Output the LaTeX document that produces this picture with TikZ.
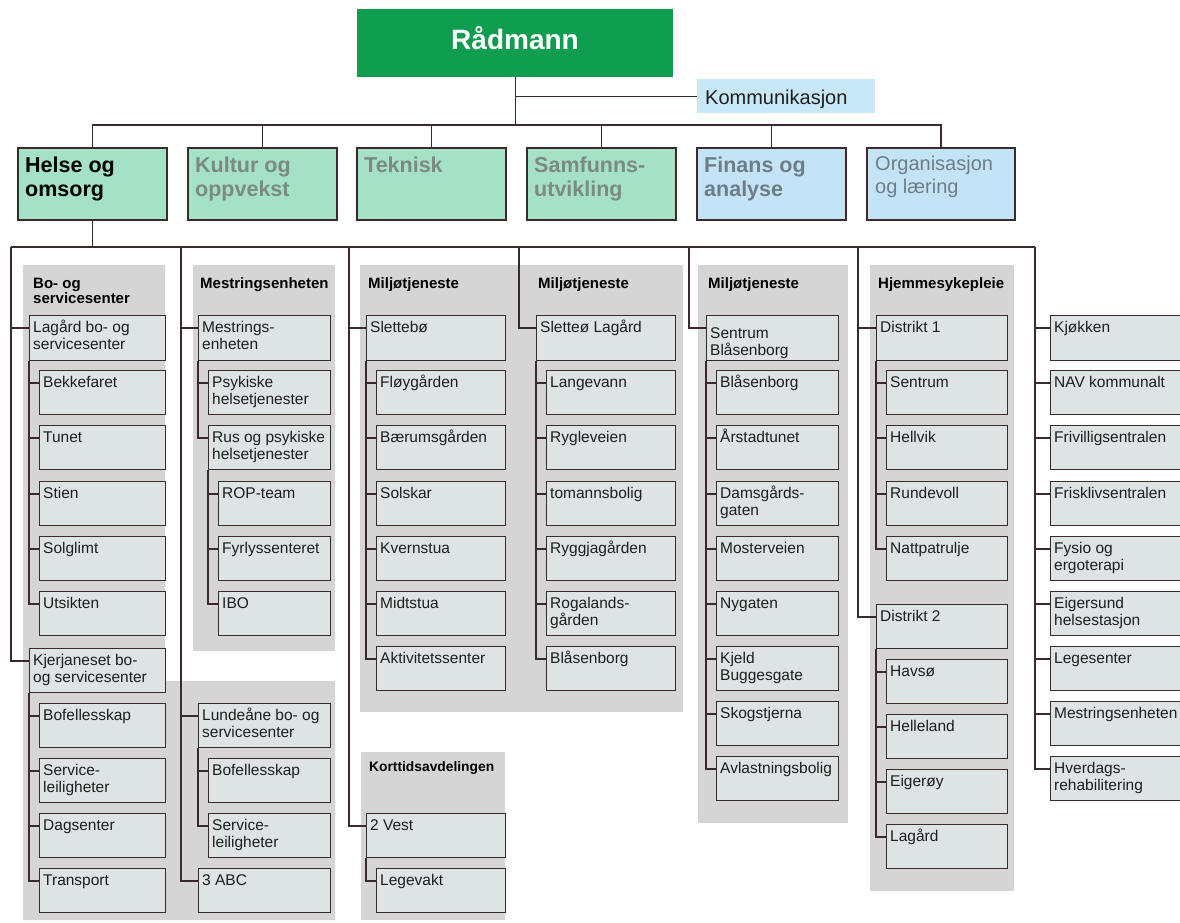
\documentclass[tikz,border=0pt]{standalone}
\usepackage{fontspec}
\setmainfont{Liberation Sans}
\definecolor{lineC}{HTML}{3A2A2A}
\definecolor{boxC}{HTML}{DEE3E3}
\definecolor{panelC}{HTML}{D4D5D4}
\definecolor{radC}{HTML}{0F9D50}
\definecolor{mintC}{HTML}{A5E1C7}
\definecolor{skyC}{HTML}{C3E4F6}
\definecolor{kommC}{HTML}{C8E7F7}
\definecolor{greyTxt}{HTML}{7C8A83}
\definecolor{blueTxt}{HTML}{6F7D87}
\definecolor{inkC}{HTML}{1E1E1E}
\newcommand\olines[1]{\begin{tabular}[t]{@{}l@{}}#1\end{tabular}}
\newcommand\obox[6]{%
  \node[ubox,minimum width=#4pt,minimum height=#5pt] (#1) at (#2,#3) {};
  \node[btxt] (#1-t) at ([xshift=4pt,yshift=-17pt]#1.north west) {\olines{#6}};}
\newcommand\olink[2]{\draw[conn] (#1) |- ([yshift=-13pt]#2.north west);}
\newcommand\lvlbox[5]{%
  \node[lbox,fill=#3,minimum width=149pt,minimum height=72pt] (#1) at (#2,147) {};
  \node[ltxt,text=#4] (#1-t) at ([xshift=8pt,yshift=-25pt]#1.north west) {#5};}
\tikzset{
  ubox/.style={draw=lineC,line width=1.3pt,fill=boxC,anchor=north west,inner sep=0pt},
  btxt/.style={anchor=base west,inner sep=0pt,text=inkC,font=\fontsize{15.5}{17.5}\selectfont},
  conn/.style={draw=lineC,line width=1.3pt},
  ttl/.style={anchor=base west,inner sep=0pt,text=black,font=\bfseries\fontsize{15}{15}\selectfont},
  lbox/.style={draw=lineC,line width=2pt,anchor=north west,inner sep=0pt},
  ltxt/.style={anchor=base west,inner sep=0pt,font=\fontsize{21.5}{24.5}\selectfont},
}
\begin{document}
\begin{tikzpicture}[x=1pt,y=-1pt]
\useasboundingbox (0,0) rectangle (1180,922);
\fill[white] (0,0) rectangle (1180,922);
% panels
\fill[panelC] (23,265) -- (165,265) -- (165,681) -- (335,681) -- (335,920) -- (23,920) -- cycle;
\fill[panelC] (193,265) rectangle (335,651);
\fill[panelC] (360,265) rectangle (683,712);
\fill[panelC] (698,265) rectangle (848,823);
\fill[panelC] (870,265) rectangle (1014,891);
\fill[panelC] (361,752) rectangle (505,920);
% panel titles
\node[ttl] (t1) at (33,288) {\olines{Bo- og\\servicesenter}};
\node[ttl] (t2) at (200,288) {Mestringsenheten};
\node[ttl] (t3) at (368,288) {Miljøtjeneste};
\node[ttl] (t4) at (538,288) {Miljøtjeneste};
\node[ttl] (t5) at (708,288) {Miljøtjeneste};
\node[ttl] (t6) at (878,288) {Hjemmesykepleie};
\node[ttl,font=\bfseries\fontsize{13.8}{14}\selectfont] (t7) at (369,771) {Korttidsavdelingen};
% top
\node[fill=radC,minimum width=316pt,minimum height=68pt,anchor=north west,inner sep=0pt] (rad) at (357,9) {};
\node[anchor=base,inner sep=0pt,text=white,font=\bfseries\fontsize{28}{30}\selectfont] (rad-t) at (515,49) {Rådmann};
\node[fill=kommC,minimum width=178pt,minimum height=34pt,anchor=north west,inner sep=0pt] (komm) at (697,79) {};
\node[anchor=base west,inner sep=0pt,text=inkC,font=\fontsize{20}{22}\selectfont] (komm-t) at (705,104) {Kommunikasjon};
% level 1
\lvlbox{helse}{17}{mintC}{black}{\bfseries\olines{Helse og\\omsorg}}
\lvlbox{kultur}{187}{mintC}{greyTxt}{\bfseries\olines{Kultur og\\oppvekst}}
\lvlbox{tek}{356}{mintC}{greyTxt}{\bfseries\olines{Teknisk}}
\lvlbox{samf}{526}{mintC}{greyTxt}{\bfseries\olines{Samfunns-\\utvikling}}
\lvlbox{fin}{696}{skyC}{blueTxt}{\bfseries\olines{Finans og\\analyse}}
\node[lbox,fill=skyC,minimum width=148pt,minimum height=72pt] (org) at (866,147) {};
\node[anchor=base west,inner sep=0pt,text=blueTxt,font=\fontsize{20}{23}\selectfont] (org-t) at (875,170) {\olines{Organisasjon\\og læring}};
% top connectors
\coordinate (tb) at (517,125);
\draw[conn] (rad.south) -- (rad.south |- tb);
\draw[conn] (rad.south |- komm.west) -- (komm.west);
\draw[conn] (helse.north) -- (helse.north |- tb) -- (org.north |- tb) -- (org.north);
\foreach \n in {kultur,tek,samf,fin} {\draw[conn] (\n.north) -- (\n.north |- tb);}
% second bus
\coordinate (bl) at (11,247);
\coordinate (c2) at (181,247);
\coordinate (c3) at (349,247);
\coordinate (c4) at (519,247);
\coordinate (c5) at (689,247);
\coordinate (c6) at (858,247);
\coordinate (br) at (1035,247);
\draw[conn] (helse.south) -- (helse.south |- bl);
\draw[conn] (bl) -- (br);
% column 1
\obox{lag}{29}{315}{136}{45}{Lagård bo- og\\servicesenter}
\obox{bek}{39}{370}{126}{44}{Bekkefaret}
\obox{tun}{39}{425}{126}{44}{Tunet}
\obox{sti}{39}{481}{126}{44}{Stien}
\obox{sol}{39}{536}{126}{44}{Solglimt}
\obox{uts}{39}{591}{126}{44}{Utsikten}
\obox{kje}{29}{648}{136}{44}{Kjerjaneset bo-\\og servicesenter}
\obox{bof}{39}{703}{126}{44}{Bofellesskap}
\obox{svc}{39}{758}{126}{44}{Service-\\leiligheter}
\obox{dag}{39}{813}{126}{44}{Dagsenter}
\obox{tra}{39}{868}{126}{44}{Transport}
\olink{bl}{lag}\olink{bl}{kje}
\foreach \n in {bek,tun,sti,sol,uts} {\olink{lag.south west}{\n}}
\foreach \n in {bof,svc,dag,tra} {\olink{kje.south west}{\n}}
% column 2
\obox{mes}{198}{315}{132}{45}{Mestrings-\\enheten}
\obox{psy}{208}{370}{122}{44}{Psykiske\\helsetjenester}
\obox{rus}{208}{425}{122}{44}{Rus og psykiske\\helsetjenester}
\obox{rop}{218}{481}{112}{44}{ROP-team}
\obox{fyr}{218}{536}{112}{44}{Fyrlyssenteret}
\obox{ibo}{218}{591}{112}{44}{IBO}
\obox{lun}{198}{703}{132}{44}{Lundeåne bo- og\\servicesenter}
\obox{bofb}{208}{758}{122}{44}{Bofellesskap}
\obox{svcb}{208}{813}{122}{44}{Service-\\leiligheter}
\obox{abc}{198}{868}{132}{44}{3 ABC}
\olink{c2}{mes}\olink{c2}{lun}\olink{c2}{abc}
\foreach \n in {psy,rus} {\olink{mes.south west}{\n}}
\foreach \n in {rop,fyr,ibo} {\olink{rus.south west}{\n}}
\foreach \n in {bofb,svcb} {\olink{lun.south west}{\n}}
% column 3
\obox{sle}{366}{315}{139}{45}{Slettebø}
\obox{flo}{376}{370}{129}{44}{Fløygården}
\obox{bae}{376}{425}{129}{44}{Bærumsgården}
\obox{sok}{376}{481}{129}{44}{Solskar}
\obox{kve}{376}{536}{129}{44}{Kvernstua}
\obox{mid}{376}{591}{129}{44}{Midtstua}
\obox{akt}{376}{646}{129}{44}{Aktivitetssenter}
\obox{ves}{366}{813}{139}{44}{2 Vest}
\obox{leg}{376}{868}{129}{44}{Legevakt}
\olink{c3}{sle}\olink{c3}{ves}
\foreach \n in {flo,bae,sok,kve,mid,akt} {\olink{sle.south west}{\n}}
\olink{ves.south west}{leg}
% column 4
\obox{slo}{536}{315}{139}{45}{Sletteø Lagård}
\obox{lan}{546}{370}{129}{44}{Langevann}
\obox{ryg}{546}{425}{129}{44}{Rygleveien}
\obox{tom}{546}{481}{129}{44}{tomannsbolig}
\obox{ryj}{546}{536}{129}{44}{Ryggjagården}
\obox{rog}{546}{591}{129}{44}{Rogalands-\\gården}
\obox{bla}{546}{646}{129}{44}{Blåsenborg}
\olink{c4}{slo}
\foreach \n in {lan,ryg,tom,ryj,rog,bla} {\olink{slo.south west}{\n}}
% column 5
\node[ubox,minimum width=132pt,minimum height=45pt] (sen) at (706,315) {};
\node[btxt,font=\fontsize{15.5}{15}\selectfont] (sen-t) at ([xshift=4pt,yshift=-23pt]sen.north west) {\olines{Sentrum\\Blåsenborg}};
\obox{blb}{716}{370}{122}{44}{Blåsenborg}
\obox{ars}{716}{425}{122}{44}{Årstadtunet}
\obox{dam}{716}{481}{122}{44}{Damsgårds-\\gaten}
\obox{mos}{716}{536}{122}{44}{Mosterveien}
\obox{nyg}{716}{591}{122}{44}{Nygaten}
\obox{kje2}{716}{646}{122}{44}{Kjeld\\Buggesgate}
\obox{sko}{716}{701}{122}{44}{Skogstjerna}
\obox{avl}{716}{756}{122}{44}{Avlastningsbolig}
\olink{c5}{sen}
\foreach \n in {blb,ars,dam,mos,nyg,kje2,sko,avl} {\olink{sen.south west}{\n}}
% column 6
\obox{dia}{876}{315}{131}{45}{Distrikt 1}
\obox{sen2}{886}{370}{121}{44}{Sentrum}
\obox{hel}{886}{425}{121}{44}{Hellvik}
\obox{run}{886}{481}{121}{44}{Rundevoll}
\obox{nat}{886}{536}{121}{44}{Nattpatrulje}
\obox{dib}{876}{604}{131}{44}{Distrikt 2}
\obox{hav}{886}{659}{121}{44}{Havsø}
\obox{hll}{886}{714}{121}{44}{Helleland}
\obox{eig}{886}{769}{121}{44}{Eigerøy}
\obox{lgd}{886}{824}{121}{44}{Lagård}
\olink{c6}{dia}\olink{c6}{dib}
\foreach \n in {sen2,hel,run,nat} {\olink{dia.south west}{\n}}
\foreach \n in {hav,hll,eig,lgd} {\olink{dib.south west}{\n}}
% column 7
\obox{kjo}{1050}{315}{140}{45}{Kjøkken}
\obox{nav}{1050}{370}{140}{44}{NAV kommunalt}
\obox{fri}{1050}{425}{140}{44}{Frivilligsentralen}
\obox{frs}{1050}{481}{140}{44}{Frisklivsentralen}
\obox{fys}{1050}{536}{140}{44}{Fysio og\\ergoterapi}
\obox{egs}{1050}{591}{140}{44}{Eigersund\\helsestasjon}
\obox{lgs}{1050}{646}{140}{44}{Legesenter}
\obox{mst}{1050}{701}{140}{44}{Mestringsenheten}
\obox{hve}{1050}{756}{140}{44}{Hverdags-\\rehabilitering}
\foreach \n in {kjo,nav,fri,frs,fys,egs,lgs,mst,hve} {\olink{br}{\n}}
\end{tikzpicture}
\end{document}
